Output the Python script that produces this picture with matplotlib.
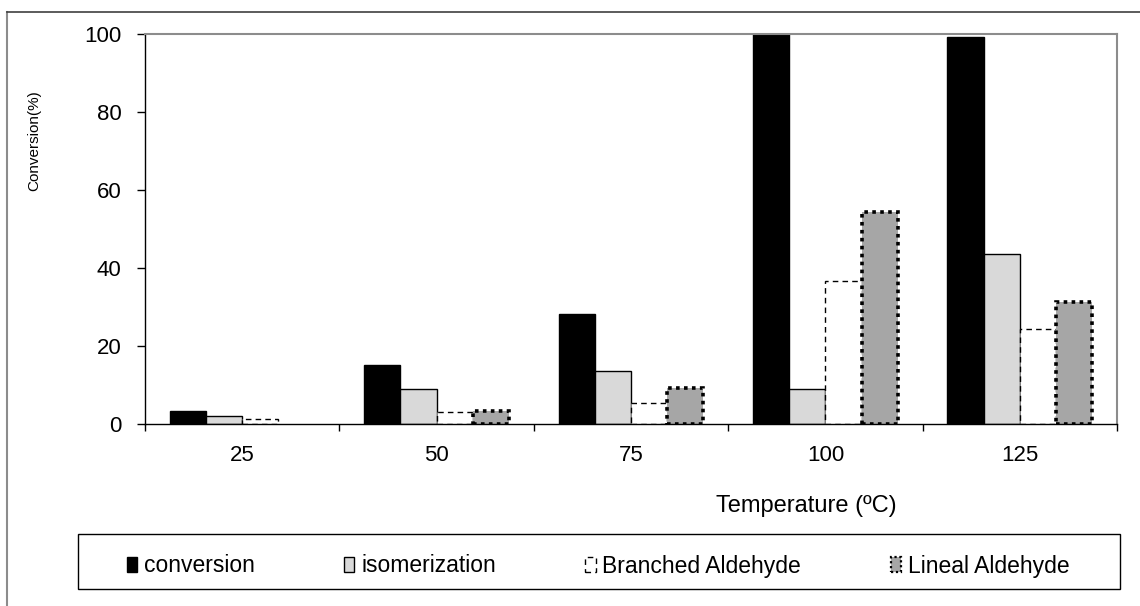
import numpy as np
import matplotlib
matplotlib.use("Agg")
import matplotlib.pyplot as plt
from matplotlib.lines import Line2D
from matplotlib.patches import Patch, Rectangle

plt.rcParams.update({
    'font.family': ['Liberation Sans', 'DejaVu Sans'],
    'font.size': 15,
})

# --- data ---
temperatures = ['25', '50', '75', '100', '125']
conversion = [3.3, 15.1, 28.2, 100.0, 99.3]
isomerization = [2.1, 9.0, 13.6, 9.1, 43.6]
branched = [1.2, 3.2, 5.4, 36.7, 24.3]
lineal = [0.0, 3.3, 9.2, 54.4, 31.4]

series = [
    ('conversion', conversion, dict(facecolor='black', edgecolor='black', linewidth=1)),
    ('isomerization', isomerization, dict(facecolor='#d9d9d9', edgecolor='black', linewidth=1)),
    ('Branched Aldehyde', branched, dict(facecolor='white', edgecolor='black', linewidth=1,
                                         linestyle=(0, (4, 3)))),
    ('Lineal Aldehyde', lineal, dict(facecolor='#a6a6a6', edgecolor='black', linewidth=2.6,
                                     linestyle=(0, (1, 1.2)))),
]

fig = plt.figure(figsize=(11.4, 6.06), dpi=100)
ax = fig.add_axes([145 / 1140, 1 - 424 / 606, 972 / 1140, 390 / 606])

x = np.arange(len(temperatures))
width = 0.186
handles = []
for i, (name, vals, style) in enumerate(series):
    bars = ax.bar(x + (i - 1.5) * width, vals, width, **style)
    for b in bars:
        if b.get_height() == 0:
            b.set_visible(False)
    hstyle = dict(style)
    hstyle['linewidth'] = min(hstyle['linewidth'], 1.6)
    handles.append(Patch(label=name, **hstyle))

ax.set_xlim(-0.5, len(temperatures) - 0.5)
ax.set_ylim(0, 100)
ax.set_yticks([0, 20, 40, 60, 80, 100])

# category boundaries get tick marks, labels sit in the middle
ax.set_xticks(np.arange(-0.5, len(temperatures)), [''] * (len(temperatures) + 1))
ax.set_xticks(x, temperatures, minor=True)
ax.tick_params(axis='x', which='major', direction='out', length=5, width=1)
ax.tick_params(axis='x', which='minor', length=0, pad=15, labelsize=16)
ax.tick_params(axis='y', direction='out', length=6, width=1, pad=11, labelsize=16)

for s in ['top', 'right']:
    ax.spines[s].set_color('#8c8c8c')
    ax.spines[s].set_linewidth(1.5)
for s in ['left', 'bottom']:
    ax.spines[s].set_color('black')
    ax.spines[s].set_linewidth(1)

ax.set_ylabel('Conversion(%)', fontsize=11)
ax.yaxis.set_label_coords(-0.107, 0.726)
ax.set_xlabel('Temperature (ºC)', fontsize=17)
ax.xaxis.set_label_coords(0.68, -0.182)

# legend box drawn separately, entries centred inside it
fig.add_artist(Rectangle((78 / 1140, 1 - 589 / 606), 1042 / 1140, 55 / 606,
                         transform=fig.transFigure, facecolor='none',
                         edgecolor='black', linewidth=1))
fig.legend(handles=handles, loc='center', ncol=4,
           bbox_to_anchor=(598 / 1140, 1 - 566 / 606),
           frameon=False, fontsize=16.5, handlelength=0.45,
           handleheight=0.6, handletextpad=0.3, columnspacing=3.9)

# outer chart border
fig.add_artist(Line2D([7 / 1140, 7 / 1140], [0, 1 - 12 / 606], transform=fig.transFigure,
                      color='#8c8c8c', linewidth=1.5))
fig.add_artist(Line2D([7 / 1140, 1], [1 - 12 / 606, 1 - 12 / 606], transform=fig.transFigure,
                      color='#404040', linewidth=1.2))

fig.savefig('out.png', dpi=100)
